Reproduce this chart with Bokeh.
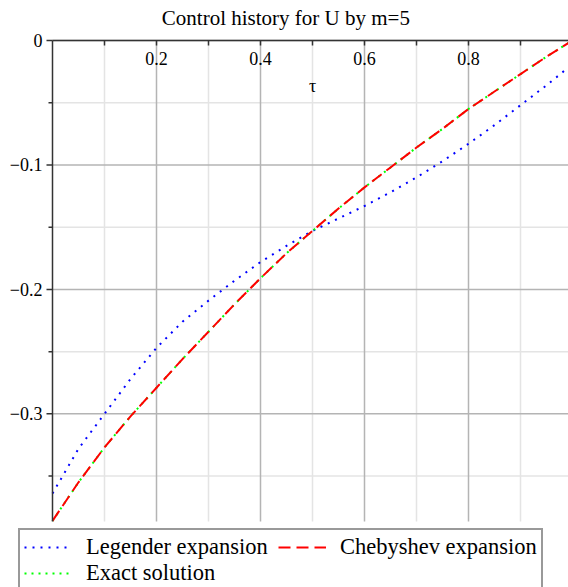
from bokeh.plotting import figure
from bokeh.models import (Range1d, FixedTicker, Label, LabelSet, Legend,
                          LegendItem, ColumnDataSource)
from bokeh.embed import file_html
from bokeh.resources import INLINE

# ---- data ----
tau = [0.00, 0.05, 0.10, 0.15, 0.20, 0.25, 0.30, 0.35, 0.40, 0.45, 0.50,
       0.55, 0.60, 0.65, 0.70, 0.75, 0.80, 0.85, 0.90, 0.95, 1.00]
legendre = [-0.364, -0.328, -0.300, -0.272, -0.247, -0.226, -0.209, -0.193,
            -0.178, -0.165, -0.153, -0.143, -0.133, -0.122, -0.110, -0.097,
            -0.083, -0.068, -0.052, -0.036, -0.019]
chebyshev = [-0.386, -0.355, -0.327, -0.302, -0.279, -0.256, -0.234, -0.212,
             -0.191, -0.171, -0.153, -0.135, -0.118, -0.102, -0.086, -0.071,
             -0.055, -0.041, -0.027, -0.013, 0.000]
exact = [-0.386, -0.355, -0.327, -0.302, -0.279, -0.256, -0.234, -0.212,
         -0.191, -0.171, -0.153, -0.135, -0.118, -0.102, -0.086, -0.071,
         -0.055, -0.041, -0.027, -0.013, 0.000]

x_major = [0.2, 0.4, 0.6, 0.8]
x_minor = [0.1, 0.3, 0.5, 0.7, 0.9]
x_labels = ["0.2", "0.4", "0.6", "0.8"]
y_major = [0.0, -0.1, -0.2, -0.3]
y_minor = [-0.05, -0.15, -0.25, -0.35]
y_labels = ["0", "\u22120.1", "\u22120.2", "\u22120.3"]

title_text = "Control history for  U by m=5"
x_title = "\u03c4"
series_names = ["Legender expansion", "Chebyshev expansion", "Exact solution"]

# plotted data window (tau from 0 to 1, U from its minimum to 0)
X_LO, X_HI = 0.0, 1.0
Y_LO, Y_HI = -0.3865, 0.0

SERIF = "Liberation Serif"
BLUE, RED, GREEN = "#0000ff", "#ff0000", "#00ff00"
AXIS = "#333333"

# pixel layout: the frame covers (almost) the whole canvas; the data window is
# mapped so that tau=0 sits 52px from the left and U=0 sits 40px from the top.
PX_X = 520.0      # pixels per unit tau
PX_Y = 1244.5     # pixels per unit U
W, H = 568, 587
LEFT, TOP = 8, 4  # frame borders
x_rng = Range1d(X_LO - (52 - LEFT) / PX_X, X_LO + (W - 52) / PX_X)
y_rng = Range1d(Y_HI - (H - 40) / PX_Y, Y_HI + (40 - TOP) / PX_Y)
TICK_MAJ = 6 / PX_X   # y-axis tick lengths (6px and 4px) in data units
TICK_MIN = 4 / PX_X

p = figure(width=W, height=H, output_backend="svg", toolbar_location=None,
           x_axis_location="above", y_axis_location=None, title=None,
           x_range=x_rng, y_range=y_rng,
           min_border_left=LEFT, min_border_right=0, min_border_top=TOP,
           min_border_bottom=0)
p.outline_line_color = None
p.background_fill_color = "white"
p.border_fill_color = "white"
p.grid.visible = False

# ---- grid lines drawn over the data window only ----
n_xmi, n_xma = len(x_minor), len(x_major)
n_ymi, n_yma = len(y_minor), len(y_major)
p.segment(x0=x_minor, x1=x_minor, y0=[Y_LO] * n_xmi, y1=[Y_HI] * n_xmi,
          line_color="#e4e4e4", line_width=1.5)
p.segment(x0=[X_LO] * n_ymi, x1=[X_HI] * n_ymi, y0=y_minor, y1=y_minor,
          line_color="#e4e4e4", line_width=1.5)
p.segment(x0=x_major, x1=x_major, y0=[Y_LO] * n_xma, y1=[Y_HI] * n_xma,
          line_color="#b4b4b4", line_width=1.5)
p.segment(x0=[X_LO] * n_yma, x1=[X_HI] * n_yma, y0=y_major, y1=y_major,
          line_color="#b4b4b4", line_width=1.5)

# ---- x axis along U = 0 (top), labels underneath ----
xax = p.xaxis[0]
xax.fixed_location = Y_HI
xax.bounds = (X_LO, X_HI)
xax.ticker = FixedTicker(ticks=x_major, minor_ticks=x_minor)
xax.major_label_overrides = dict(zip(x_major, x_labels))
xax.major_label_text_font = SERIF
xax.major_label_text_font_size = "18px"
xax.major_label_text_color = "black"
xax.major_label_standoff = -24
xax.axis_line_color = AXIS
xax.axis_line_width = 1.5
xax.major_tick_in = 5
xax.major_tick_out = 0
xax.minor_tick_in = 5
xax.minor_tick_out = 0
xax.major_tick_line_color = AXIS
xax.minor_tick_line_color = AXIS
xax.major_tick_line_width = 1.5
xax.minor_tick_line_width = 1.5

# ---- curves ----
LEG_STYLE = dict(line_color=BLUE, line_width=2, line_dash="2 6")
EXA_STYLE = dict(line_color=GREEN, line_width=2, line_dash="2 5")
CHE_STYLE = dict(line_color=RED, line_width=2, line_dash="12 6")

r_leg = p.line(tau, legendre, **LEG_STYLE)
r_exa = p.line(tau, exact, **EXA_STYLE)
r_che = p.line(tau, chebyshev, **CHE_STYLE)

# ---- y axis along tau = 0: line, ticks, labels ----
p.segment(x0=[X_LO], x1=[X_LO], y0=[Y_LO], y1=[Y_HI],
          line_color=AXIS, line_width=1.5)
p.segment(x0=[X_LO - TICK_MAJ] * n_yma, x1=[X_LO] * n_yma,
          y0=y_major, y1=y_major, line_color=AXIS, line_width=1.5)
p.segment(x0=[X_LO - TICK_MIN] * n_ymi, x1=[X_LO] * n_ymi,
          y0=y_minor, y1=y_minor, line_color=AXIS, line_width=1.5)
ylab_src = ColumnDataSource(dict(x=[X_LO] * n_yma, y=y_major, text=y_labels))
p.add_layout(LabelSet(x="x", y="y", text="text", source=ylab_src,
                      x_offset=-10, text_align="right", text_baseline="middle",
                      text_font=SERIF, text_font_size="18px",
                      text_color="black"))

# ---- texts ----
p.add_layout(Label(x=X_LO, y=Y_HI, x_offset=236, y_offset=23, text=title_text,
                   text_align="center", text_baseline="alphabetic",
                   text_font=SERIF, text_font_size="21px", text_color="black"))
p.add_layout(Label(x=0.5, y=Y_HI, y_offset=-45, text=x_title,
                   text_align="center", text_baseline="alphabetic",
                   text_font=SERIF, text_font_size="18px", text_color="black"))

# ---- legend under the data window ----
legend = Legend(items=[LegendItem(label=series_names[0], renderers=[r_leg]),
                       LegendItem(label=series_names[1], renderers=[r_che]),
                       LegendItem(label=series_names[2], renderers=[r_exa])],
                location=(18 - LEFT, -5), orientation="horizontal", ncols=2,
                padding=4, spacing=0, margin=0,
                glyph_width=48, glyph_height=20, label_standoff=14,
                label_width=192, label_height=20,
                label_text_font=SERIF, label_text_font_size="22.5px",
                label_text_color="black",
                border_line_color=AXIS, border_line_width=2,
                background_fill_color="white", background_fill_alpha=1.0)
p.add_layout(legend)

open("out.html", "w").write(file_html(p, INLINE))
